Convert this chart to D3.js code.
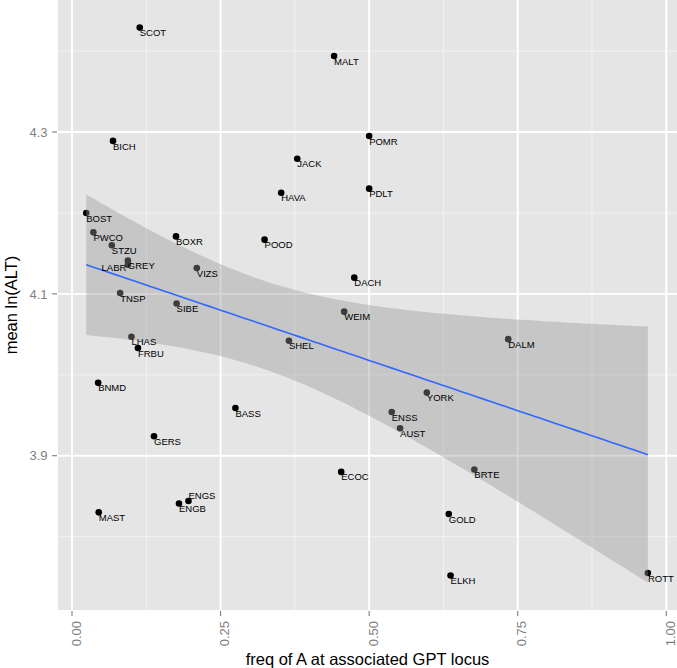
<!DOCTYPE html>
<html>
<head>
<meta charset="utf-8">
<script src="https://cdn.jsdelivr.net/npm/d3@7"></script>
<style>
  html, body { margin: 0; padding: 0; background: #fff; }
  svg { display: block; font-family: "Liberation Sans", Arial, Helvetica, sans-serif; }
</style>
</head>
<body>
<svg id="chart" width="677" height="668"></svg>
<script>
// ---- data ----
const breeds = ["SCOT","MALT","BICH","POMR","JACK","HAVA","PDLT","BOST","PWCO","BOXR","POOD","STZU","GREY","LABR","VIZS","DACH","TNSP","SIBE","WEIM","LHAS","SHEL","DALM","FRBU","BNMD","YORK","BASS","ENSS","AUST","GERS","BRTE","ECOC","ENGS","ENGB","MAST","GOLD","ELKH","ROTT"];
const freqA = [0.114,0.441,0.069,0.500,0.379,0.352,0.500,0.024,0.036,0.175,0.324,0.067,0.094,0.094,0.210,0.475,0.081,0.176,0.458,0.100,0.365,0.734,0.111,0.044,0.597,0.275,0.538,0.552,0.138,0.677,0.453,0.196,0.180,0.045,0.634,0.637,0.969];
const meanLnALT = [4.429,4.394,4.289,4.295,4.267,4.225,4.230,4.200,4.176,4.171,4.167,4.160,4.141,4.136,4.132,4.120,4.101,4.088,4.078,4.047,4.042,4.044,4.033,3.990,3.978,3.959,3.954,3.934,3.924,3.883,3.880,3.844,3.841,3.830,3.828,3.752,3.755];
const xTicks = [0, 0.25, 0.5, 0.75, 1.0];
const xTickLabels = ["0.00","0.25","0.50","0.75","1.00"];
const xMinor = [0.125, 0.375, 0.625, 0.875];
const yTicks = [3.9, 4.1, 4.3];
const yTickLabels = ["3.9","4.1","4.3"];
const yMinor = [3.8, 4.0, 4.2, 4.4];
const xTitle = "freq of A at associated GPT locus";
const yTitle = "mean ln(ALT)";
// label placement exceptions (default: right/below the point)
const labelPlacement = { LABR: "left", ENGS: "above" };

const data = breeds.map((b, i) => ({ name: b, x: freqA[i], y: meanLnALT[i] }));

// ---- layout ----
const svg = d3.select("#chart");
const panel = { left: 58, right: 677, top: 0, bottom: 610 };
const x = d3.scaleLinear().domain([0, 1]).range([72, 666.3]);
const y = d3.scaleLinear().domain([3.9, 4.3]).range([455.7, 132]);

// panel background
svg.append("rect")
  .attr("x", panel.left).attr("y", panel.top)
  .attr("width", panel.right - panel.left).attr("height", panel.bottom - panel.top)
  .attr("fill", "#E5E5E5");

const grid = svg.append("g");
// minor grid
grid.selectAll(".vminor").data(xMinor).join("line")
  .attr("x1", d => x(d)).attr("x2", d => x(d))
  .attr("y1", panel.top).attr("y2", panel.bottom)
  .attr("stroke", "#F2F2F2").attr("stroke-width", 1);
grid.selectAll(".hminor").data(yMinor).join("line")
  .attr("y1", d => y(d)).attr("y2", d => y(d))
  .attr("x1", panel.left).attr("x2", panel.right)
  .attr("stroke", "#F2F2F2").attr("stroke-width", 1);
// major grid
grid.selectAll(".vmajor").data(xTicks).join("line")
  .attr("x1", d => x(d)).attr("x2", d => x(d))
  .attr("y1", panel.top).attr("y2", panel.bottom)
  .attr("stroke", "#FFFFFF").attr("stroke-width", 1.9);
grid.selectAll(".hmajor").data(yTicks).join("line")
  .attr("y1", d => y(d)).attr("y2", d => y(d))
  .attr("x1", panel.left).attr("x2", panel.right)
  .attr("stroke", "#FFFFFF").attr("stroke-width", 1.9);

// ---- points ----
svg.append("g").selectAll("circle").data(data).join("circle")
  .attr("cx", d => x(d.x)).attr("cy", d => y(d.y))
  .attr("r", 3.3).attr("fill", "#000");

// ---- linear model + 95% CI (like geom_smooth(method = "lm")) ----
const n = data.length;
const mx = d3.mean(data, d => d.x), my = d3.mean(data, d => d.y);
const sxx = d3.sum(data, d => (d.x - mx) ** 2);
const sxy = d3.sum(data, d => (d.x - mx) * (d.y - my));
const slope = sxy / sxx, intercept = my - slope * mx;
const rss = d3.sum(data, d => (d.y - (intercept + slope * d.x)) ** 2);
const sigma = Math.sqrt(rss / (n - 2));
const tCrit = 2.0301; // qt(0.975, df = 35)
const [xmin, xmax] = d3.extent(data, d => d.x);
const fitPts = d3.range(80).map(i => {
  const xv = xmin + (xmax - xmin) * i / 79;
  const fit = intercept + slope * xv;
  const se = sigma * Math.sqrt(1 / n + (xv - mx) ** 2 / sxx);
  return { x: xv, fit, lo: fit - tCrit * se, hi: fit + tCrit * se };
});

svg.append("path").datum(fitPts)
  .attr("d", d3.area().x(d => x(d.x)).y0(d => y(d.lo)).y1(d => y(d.hi)))
  .attr("fill", "#999999").attr("fill-opacity", 0.4);
svg.append("path").datum(fitPts)
  .attr("d", d3.line().x(d => x(d.x)).y(d => y(d.fit)))
  .attr("fill", "none").attr("stroke", "#3366FF").attr("stroke-width", 1.6);

// ---- labels ----
svg.append("g").selectAll("text").data(data).join("text")
  .attr("x", d => labelPlacement[d.name] === "left" ? x(d.x) - 1.5 : x(d.x))
  .attr("y", d => labelPlacement[d.name] === "above" ? y(d.y) - 2.5 : (labelPlacement[d.name] === "left" ? y(d.y) + 6.5 : y(d.y) + 8.6))
  .attr("text-anchor", d => labelPlacement[d.name] === "left" ? "end" : "start")
  .attr("font-size", "9.5px").attr("fill", "#000")
  .text(d => d.name);

// ---- axes ----
const axes = svg.append("g");
// x ticks
axes.selectAll(".xt").data(xTicks).join("line")
  .attr("x1", d => x(d)).attr("x2", d => x(d))
  .attr("y1", panel.bottom + 1).attr("y2", panel.bottom + 6)
  .attr("stroke", "#7F7F7F").attr("stroke-width", 1.1);
axes.selectAll(".xl").data(xTicks).join("text")
  .attr("transform", d => `translate(${x(d) + 8.5},${panel.bottom + 11}) rotate(-90)`)
  .attr("text-anchor", "end")
  .attr("font-size", "13px").attr("fill", "#7F7F7F")
  .text((d, i) => xTickLabels[i]);
// y ticks
axes.selectAll(".yt").data(yTicks).join("line")
  .attr("y1", d => y(d)).attr("y2", d => y(d))
  .attr("x1", panel.left - 6).attr("x2", panel.left - 1)
  .attr("stroke", "#7F7F7F").attr("stroke-width", 1.1);
axes.selectAll(".yl").data(yTicks).join("text")
  .attr("x", panel.left - 10.5).attr("y", d => y(d))
  .attr("dy", "0.36em")
  .attr("text-anchor", "end")
  .attr("font-size", "13px").attr("fill", "#7F7F7F")
  .text((d, i) => yTickLabels[i]);

// titles
svg.append("text")
  .attr("x", (panel.left + panel.right) / 2).attr("y", 665)
  .attr("text-anchor", "middle").attr("font-size", "16.5px").attr("fill", "#000")
  .text(xTitle);
svg.append("text")
  .attr("transform", `translate(16.5,${(panel.top + panel.bottom) / 2}) rotate(-90)`)
  .attr("text-anchor", "middle").attr("font-size", "16.5px").attr("fill", "#000")
  .text(yTitle);
</script>
</body>
</html>
